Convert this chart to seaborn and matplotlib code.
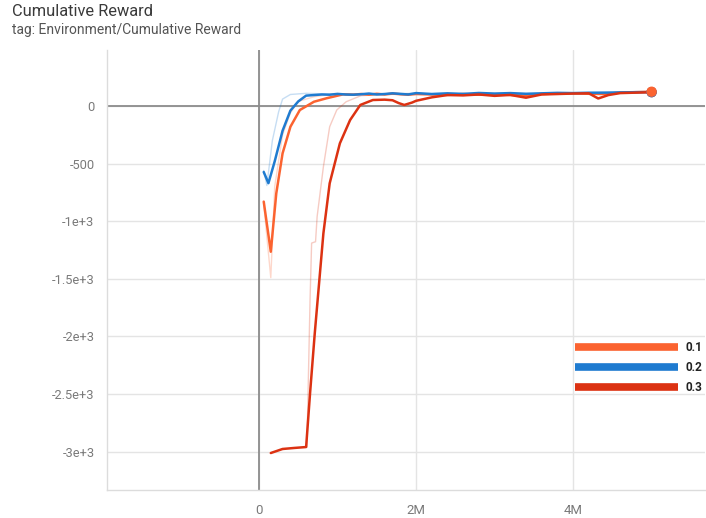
import numpy as np
import pandas as pd
import matplotlib
matplotlib.use("Agg")
import matplotlib.pyplot as plt
from matplotlib.lines import Line2D
import seaborn as sns

# ---------------- data ----------------
runs = ["0.1", "0.2", "0.3"]
colors = ["#fb6330", "#1f7bd0", "#dc3212"]

# smoothed curves (steps in millions, cumulative reward)
steps_01 = [0.06, 0.15, 0.22, 0.30, 0.40, 0.52, 0.70, 0.86, 1.07, 1.20, 1.30, 1.40, 1.50, 1.60,
            1.70, 1.80, 1.90, 2.00, 2.20, 2.40, 2.60, 2.80, 3.00, 3.20, 3.40, 3.60, 3.80, 4.00,
            4.20, 4.40, 4.60, 4.80, 5.00]
vals_01 = [-830, -1265, -758, -411, -180, -35, 37, 67, 101, 98, 104, 98, 106, 100,
           108, 102, 98, 104, 100, 96, 104, 98, 102, 96, 90, 104, 108, 110,
           106, 104, 116, 120, 124]

steps_02 = [0.06, 0.12, 0.20, 0.30, 0.40, 0.50, 0.60, 0.70, 0.80, 0.90, 1.00, 1.10, 1.20, 1.30,
            1.40, 1.50, 1.60, 1.70, 1.80, 1.90, 2.00, 2.20, 2.40, 2.60, 2.80, 3.00, 3.20, 3.40,
            3.60, 3.80, 4.00, 4.20, 4.40, 4.60, 4.80, 5.00]
vals_02 = [-573, -670, -480, -215, -40, 40, 90, 95, 100, 98, 105, 100, 98, 102,
           108, 100, 104, 110, 105, 100, 112, 104, 110, 105, 113, 108, 112, 106,
           110, 114, 112, 115, 116, 118, 120, 120]

steps_03 = [0.15, 0.30, 0.45, 0.60, 0.65, 0.71, 0.82, 0.90, 1.03, 1.16, 1.29, 1.45, 1.60, 1.70,
            1.78, 1.85, 1.95, 2.00, 2.10, 2.20, 2.40, 2.60, 2.80, 3.00, 3.20, 3.40, 3.60, 3.80,
            4.00, 4.20, 4.32, 4.45, 4.60, 4.80, 5.00]
vals_03 = [-3012, -2977, -2968, -2960, -2494, -1973, -1105, -671, -324, -122, 9, 52, 55, 50,
           25, 9, 30, 45, 60, 75, 95, 92, 100, 88, 96, 72, 100, 104,
           108, 110, 65, 95, 112, 116, 120]

# raw (unsmoothed) curves, drawn faintly
raw_steps_01 = [0.06, 0.15, 0.20, 0.30, 0.40, 0.50, 0.70, 0.90, 1.20, 1.60, 2.00]
raw_vals_01 = [-850, -1490, -700, -250, -60, 40, 80, 100, 104, 100, 104]
raw_steps_02 = [0.06, 0.10, 0.17, 0.25, 0.30, 0.40, 0.60, 0.90, 1.20, 1.60, 2.00]
raw_vals_02 = [-560, -690, -300, -50, 60, 100, 110, 104, 100, 106, 110]
raw_steps_03 = [0.61, 0.65, 0.67, 0.72, 0.74, 0.82, 0.90, 0.99, 1.11, 1.30, 1.60, 2.00]
raw_vals_03 = [-2960, -1684, -1190, -1178, -961, -527, -180, -35, 37, 90, 100, 104]

yticks = [-3000, -2500, -2000, -1500, -1000, -500, 0]
ytick_labels = ["-3e+3", "-2.5e+3", "-2e+3", "-1.5e+3", "-1e+3", "-500", "0"]
xticks = [0, 2e6, 4e6]
xtick_labels = ["0", "2M", "4M"]

title = "Cumulative Reward"
subtitle = "tag: Environment/Cumulative Reward"

# ---------------- tables ----------------
def frame(steps_list, vals_list):
    parts = []
    for r, s, v in zip(runs, steps_list, vals_list):
        parts.append(pd.DataFrame({"run": r, "step": np.array(s) * 1e6, "value": v}))
    return pd.concat(parts, ignore_index=True)

df = frame([steps_01, steps_02, steps_03], [vals_01, vals_02, vals_03])
df_raw = frame([raw_steps_01, raw_steps_02, raw_steps_03], [raw_vals_01, raw_vals_02, raw_vals_03])
palette = dict(zip(runs, colors))

# ---------------- figure ----------------
sns.set_theme(style="white")
plt.rcParams["font.family"] = ["Roboto", "DejaVu Sans"]

fig = plt.figure(figsize=(7.06, 5.18), dpi=100)
ax = fig.add_axes([107 / 706, 28 / 518, 598 / 706, 440 / 518])

ax.set_xlim(-1.936e6, 5.68e6)
ax.set_ylim(-3333, 486)
ax.set_xticks(xticks)
ax.set_xticklabels(xtick_labels)
ax.set_yticks(yticks)
ax.set_yticklabels(ytick_labels)
ax.grid(True, color="#e4e4e4", linewidth=1.0)
ax.set_axisbelow(True)
ax.axhline(0, color="#8c8c8c", linewidth=1.3, zorder=1)
ax.axvline(0, color="#8c8c8c", linewidth=1.3, zorder=1)

for side in ["top", "right"]:
    ax.spines[side].set_visible(False)
for side in ["left", "bottom"]:
    ax.spines[side].set_color("#dcdcdc")
    ax.spines[side].set_linewidth(1.0)

ax.tick_params(axis="y", length=4, width=1, color="#d0d0d0", labelcolor="#7a7a7a",
               labelsize=9.3, pad=5)
ax.tick_params(axis="x", length=4, width=1, color="#d0d0d0", labelcolor="#7a7a7a",
               labelsize=9.5, pad=6)

sns.lineplot(data=df_raw, x="step", y="value", hue="run", palette=palette,
             estimator=None, sort=False, linewidth=1.0, alpha=0.25, legend=False, ax=ax)
sns.lineplot(data=df, x="step", y="value", hue="run", palette=palette,
             estimator=None, sort=False, linewidth=1.8, legend=False, ax=ax)

last = df.groupby("run", sort=False).tail(1)
order = ["0.3", "0.2", "0.1"]
for r in order:
    sns.scatterplot(data=last[last["run"] == r], x="step", y="value", color=palette[r],
                    s=55, edgecolor="none", legend=False, ax=ax, zorder=5)

ax.set_xlabel("")
ax.set_ylabel("")

handles = [Line2D([0], [0], color=c, linewidth=5.5, solid_capstyle="butt") for c in colors]
leg = fig.legend(handles, runs, loc="upper left", bbox_to_anchor=(575 / 706, 1 - 341 / 518),
                 frameon=False, handlelength=8.7, handletextpad=0.7, labelspacing=0.6,
                 borderpad=0, borderaxespad=0, prop={"size": 8.5, "weight": "bold"})
for t in leg.get_texts():
    t.set_color("#222222")

fig.text(12 / 706, 1 - 12 / 518, title, fontsize=11.8, color="#3a3a3a", va="center", ha="left")
fig.text(12 / 706, 1 - 30 / 518, subtitle, fontsize=10, color="#555555", va="center", ha="left")

fig.savefig("out.png", dpi=100, facecolor="white")
